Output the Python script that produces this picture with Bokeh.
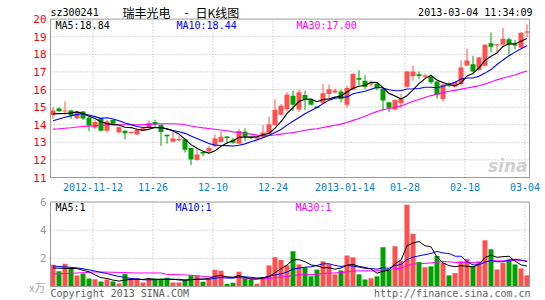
import numpy as np
import pandas as pd
from bokeh.plotting import figure
from bokeh.models import Range1d
from bokeh.core.properties import value
from bokeh.embed import file_html
from bokeh.resources import INLINE

# ---------------- data ----------------
open_ = [14.53, 14.92, 14.76, 14.81, 14.36, 14.75, 14.39, 13.82, 14.36, 13.66,
         14.27, 13.57, 13.66, 13.55, 13.44, 13.66, 13.81, 14.15, 14.00, 13.43,
         13.03, 13.11, 13.18, 12.68, 12.00, 12.45, 12.49, 12.78, 13.02, 13.33,
         13.15, 12.92, 13.60, 13.32, 13.22, 13.28, 13.47, 13.98, 14.57, 14.88,
         15.65, 14.86, 15.69, 15.41, 15.03, 15.22, 15.75, 15.83, 15.89, 15.14,
         15.98, 16.65, 16.50, 16.28, 16.33, 16.03, 15.27, 14.87, 15.22, 16.16,
         16.75, 16.87, 16.72, 16.74, 16.45, 15.46, 16.31, 16.17, 16.31, 17.37,
         17.43, 17.11, 17.35, 18.63, 18.50, 18.55, 18.86, 18.57, 18.39, 19.27]
high = [15.00, 15.00, 15.32, 14.85, 14.81, 14.78, 14.46, 14.25, 14.38, 14.28,
        14.30, 13.87, 13.68, 13.62, 13.79, 13.85, 14.25, 14.28, 14.00, 13.43,
        13.58, 13.37, 13.21, 12.70, 12.70, 12.47, 12.77, 13.44, 13.64, 13.34,
        13.26, 13.75, 13.80, 13.33, 13.42, 13.98, 14.46, 15.43, 15.17, 15.84,
        15.94, 16.00, 15.93, 15.47, 15.04, 16.31, 16.29, 16.05, 16.01, 16.23,
        16.92, 17.10, 16.81, 16.51, 16.40, 16.08, 15.30, 15.45, 15.75, 17.06,
        17.33, 17.02, 16.90, 16.82, 16.48, 16.40, 16.40, 16.45, 17.65, 18.32,
        17.92, 17.86, 18.57, 19.24, 18.58, 19.50, 18.95, 18.82, 19.27, 19.70]
low = [14.34, 14.72, 14.53, 14.33, 14.30, 14.28, 13.63, 13.75, 13.62, 13.55,
       14.00, 13.50, 13.17, 13.49, 13.40, 13.62, 13.74, 13.87, 12.79, 12.92,
       13.00, 13.06, 12.42, 11.70, 11.96, 12.21, 12.44, 12.74, 13.00, 12.92,
       12.92, 12.89, 13.07, 13.18, 13.18, 13.24, 13.42, 13.95, 14.53, 14.75,
       14.78, 14.72, 14.82, 15.14, 14.93, 15.18, 15.50, 15.77, 15.27, 14.98,
       15.96, 16.22, 16.02, 16.15, 15.95, 14.80, 14.71, 14.82, 14.95, 16.12,
       16.50, 16.60, 16.62, 16.32, 15.48, 15.32, 16.13, 16.12, 16.22, 17.33,
       16.98, 17.06, 17.31, 18.10, 18.10, 18.52, 17.91, 18.28, 18.36, 18.95]
close = [14.81, 14.76, 14.80, 14.54, 14.74, 14.35, 13.95, 14.16, 13.66, 14.18,
         14.06, 13.85, 13.51, 13.58, 13.70, 13.80, 14.09, 14.01, 13.58, 13.34,
         13.22, 13.19, 12.57, 12.02, 12.30, 12.36, 12.67, 13.22, 13.32, 13.25,
         12.97, 13.64, 13.35, 13.25, 13.34, 13.55, 14.02, 14.85, 15.08, 15.72,
         15.14, 15.84, 15.44, 15.14, 14.95, 15.79, 16.01, 15.95, 15.46, 16.08,
         16.88, 16.56, 16.15, 16.36, 16.05, 15.37, 14.97, 15.41, 15.48, 17.02,
         17.02, 16.77, 16.80, 16.41, 15.70, 16.28, 16.22, 16.42, 17.25, 17.65,
         17.02, 17.82, 18.54, 18.43, 18.57, 18.88, 18.57, 18.50, 19.22, 19.30]
volume = [1.55, 1.08, 1.62, 1.34, 0.78, 0.92, 0.56, 0.52, 0.35, 0.50,
          0.35, 0.21, 0.90, 0.56, 0.56, 0.28, 0.54, 0.56, 0.56, 0.63,
          0.28, 0.28, 0.45, 0.78, 0.78, 0.34, 0.52, 1.19, 1.12, 0.20,
          0.27, 1.04, 0.62, 0.50, 0.20, 0.65, 1.50, 2.08, 1.88, 1.50,
          2.50, 1.57, 1.36, 0.72, 1.20, 1.79, 1.58, 0.86, 1.14, 2.20,
          2.07, 0.86, 0.50, 0.58, 0.72, 2.78, 1.19, 2.86, 1.83, 5.81,
          3.74, 1.74, 1.36, 1.43, 2.17, 1.69, 0.79, 0.95, 1.79, 1.95,
          1.45, 1.79, 3.29, 2.64, 1.21, 1.67, 1.93, 1.57, 1.29, 0.79]

# moving-average values at the start of the window (read from the picture,
# they depend on sessions before the first one shown)
ma5_head = [14.62, 14.63, 14.64, 14.66]
ma10_head = [14.22, 14.32, 14.42, 14.50, 14.58, 14.62, 14.55, 14.46, 14.36]
ma30_head = [13.75, 13.77, 13.80, 13.83, 13.87, 13.90, 13.92, 13.94, 13.96, 13.98,
             14.00, 14.00, 14.00, 14.00, 14.00, 14.01, 14.02, 14.04, 14.05, 14.05,
             14.05, 14.04, 14.00, 13.93, 13.87, 13.82, 13.78, 13.74, 13.70]
vma5_head = [1.32, 1.30, 1.29, 1.28]
vma10_head = [1.46, 1.42, 1.39, 1.36, 1.32, 1.26, 1.18, 1.10, 1.00]
vma30_head = [0.89, 0.90, 0.92, 0.94, 0.96, 0.98, 1.01, 1.03, 1.03, 1.02,
              1.01, 1.00, 0.99, 0.97, 0.96, 0.96, 0.96, 0.96, 0.96, 0.86,
              0.85, 0.84, 0.82, 0.80, 0.76, 0.72, 0.68, 0.67, 0.67]

ma_legend_values = [18.84, 18.44, 17.00]
vol_legend_values = [1, 1, 1]

holidays = ["2013-01-01", "2013-01-02", "2013-01-03", "2013-02-11", "2013-02-12",
            "2013-02-13", "2013-02-14", "2013-02-15"]
tick_dates = ["2012-11-12", "2012-11-26", "2012-12-10", "2012-12-24",
              "2013-01-14", "2013-01-28", "2013-02-18", "2013-03-04"]
tick_labels = ["2012-11-12", "11-26", "12-10", "12-24",
               "2013-01-14", "01-28", "02-18", "03-04"]
price_ticks = [11, 12, 13, 14, 15, 16, 17, 18, 19, 20]
vol_ticks = [2, 4, 6]

# ---------------- derived ----------------
dates = [d.strftime("%Y-%m-%d") for d in pd.bdate_range("2012-11-01", "2013-03-04")
         if d.strftime("%Y-%m-%d") not in holidays]
n = len(close)
xs = list(range(n))
tick_idx = [dates.index(d) for d in tick_dates]


def moving(vals, w, head):
    out = list(head)
    for i in range(w - 1, len(vals)):
        out.append(float(np.mean(vals[i - w + 1:i + 1])))
    return out


ma5 = moving(close, 5, ma5_head)
ma10 = moving(close, 10, ma10_head)
ma30 = moving(close, 30, ma30_head)
vma5 = moving(volume, 5, vma5_head)
vma10 = moving(volume, 10, vma10_head)
vma30 = moving(volume, 30, vma30_head)

# ---------------- layout (pixels) ----------------
W, H = 545, 300
X0, DX = 52.5, 6.0          # pixel of first session, pixels per session
PY11, PSC = 177.0, 17.6      # pixel of price 11, pixels per price unit
VY0, VSC = 286.0, 14.08      # pixel of volume 0, pixels per volume unit
LEFT_PX, RIGHT_PX = 50.0, 529.0


def xi(px):
    return (px - X0) / DX


def yp(py):
    return 11 + (PY11 - py) / PSC


UP, DOWN = "#ff5050", "#00a000"
GRID = "#b4b4b4"
FRAME = "#9a9a9a"
MONO = value("DejaVu Sans Mono")
CJK = value("Noto Sans CJK SC")

p = figure(width=W, height=H, output_backend="svg", toolbar_location=None,
           x_range=Range1d(xi(0), xi(W)), y_range=Range1d(yp(H), yp(0)),
           min_border=0, x_axis_location=None, y_axis_location=None,
           outline_line_color=None, background_fill_color="white")
p.extra_y_ranges = {"vol": Range1d((VY0 - H) / VSC, VY0 / VSC)}
p.grid.visible = False

L, R = xi(LEFT_PX), xi(RIGHT_PX)
pmin, pmax = price_ticks[0], price_ticks[-1]
vmax = vol_ticks[-1]

# grid lines
gx = [t - 2.0 / DX for t in tick_idx]
p.segment(x0=[L] * 8, y0=price_ticks[1:-1], x1=[R] * 8, y1=price_ticks[1:-1],
          line_color=GRID, line_dash="1 2", line_width=1)
p.segment(x0=gx, y0=[pmin] * len(gx), x1=gx, y1=[pmax] * len(gx),
          line_color=GRID, line_dash="1 2", line_width=1)
p.segment(x0=[L] * 2, y0=vol_ticks[:-1], x1=[R] * 2, y1=vol_ticks[:-1],
          line_color=GRID, line_dash="1 2", line_width=1, y_range_name="vol")
p.segment(x0=gx, y0=[0] * len(gx), x1=gx, y1=[vmax] * len(gx),
          line_color=GRID, line_dash="1 2", line_width=1, y_range_name="vol")

# candles
colors = [UP if c >= o else DOWN for o, c in zip(open_, close)]
mind = 1.0 / PSC
tops = [max(o, c) for o, c in zip(open_, close)]
bots = [min(o, c) if abs(o - c) >= mind else max(o, c) - mind for o, c in zip(open_, close)]
p.segment(x0=xs, y0=high, x1=xs, y1=low, line_color=colors, line_width=1)
p.vbar(x=xs, width=5.0 / DX, top=tops, bottom=bots, fill_color=colors, line_color=None)

# price MAs
p.line(xs, ma30, line_color="#ff00ff", line_width=1.1)
p.line(xs, ma10, line_color="#0000ff", line_width=1.1)
p.line(xs, ma5, line_color="black", line_width=1.1)

# volume
p.vbar(x=xs, width=5.0 / DX, top=volume, bottom=0, fill_color=colors, line_color=None,
       y_range_name="vol")
p.line(xs, vma30, line_color="#ff00ff", line_width=1, y_range_name="vol")
p.line(xs, vma10, line_color="#0000ff", line_width=1, y_range_name="vol")
p.line(xs, vma5, line_color="black", line_width=1, y_range_name="vol")

# frames
p.quad(left=[L], right=[R], top=[pmax], bottom=[pmin], fill_alpha=0,
       line_color=FRAME, line_width=1)
p.quad(left=[L], right=[R], top=[vmax], bottom=[0], fill_alpha=0,
       line_color=FRAME, line_width=1, y_range_name="vol")

# price tick labels
p.text(x=[xi(46)] * len(price_ticks), y=price_ticks, text=[str(t) for t in price_ticks],
       text_font=MONO, text_font_size="11px", text_color="#ff0000",
       text_align="right", text_baseline="middle")
# volume tick labels
p.text(x=[xi(46)] * len(vol_ticks), y=vol_ticks, text=[str(t) for t in vol_ticks],
       text_font=MONO, text_font_size="11px", text_color="#a0a0a0",
       text_align="right", text_baseline="middle", y_range_name="vol")
p.text(x=[xi(45)], y=[yp(286.5)], text=["x万"], text_font=CJK, text_font_size="11px",
       text_color="#a8a8a8", text_align="right", text_baseline="middle")
# date labels
p.text(x=gx, y=[yp(186)] * len(gx), text=tick_labels, text_font=MONO,
       text_font_size="10px", text_color="#0a80cc", text_align="center",
       text_baseline="middle")

# header
p.text(x=[xi(50)], y=[yp(12)], text=["sz300241"], text_font=MONO, text_font_size="10px",
       text_color="black", text_baseline="middle")
p.text(x=[xi(122), xi(186), xi(195)], y=[yp(12)] * 3, text=["瑞丰光电", "-", "日K线图"],
       text_font=CJK, text_font_size="12px", text_color="black",
       text_align=["left", "center", "left"], text_baseline="middle")
p.text(x=[xi(532)], y=[yp(12)], text=["2013-03-04 11:34:09"], text_font=MONO,
       text_font_size="10px", text_color="black", text_align="right",
       text_baseline="middle")

# MA legends
p.text(x=[xi(55), xi(176), xi(296)], y=[yp(25)] * 3,
       text=["MA5:%.2f" % ma_legend_values[0], "MA10:%.2f" % ma_legend_values[1],
             "MA30:%.2f" % ma_legend_values[2]],
       text_font=MONO, text_font_size="10px", text_color=["black", "#0000ff", "#ff00ff"],
       text_baseline="middle")
p.text(x=[xi(55), xi(175), xi(295)], y=[yp(207)] * 3,
       text=["MA5:%d" % vol_legend_values[0], "MA10:%d" % vol_legend_values[1],
             "MA30:%d" % vol_legend_values[2]],
       text_font=MONO, text_font_size="10px", text_color=["black", "#0000ff", "#ff00ff"],
       text_baseline="middle")

# watermark
p.text(x=[xi(527)], y=[yp(165)], text=["sina"], text_font=value("DejaVu Sans"),
       text_font_size="17px", text_font_style="bold italic", text_color="#cfcfcf",
       text_align="right", text_baseline="middle")

# footer
p.text(x=[xi(50)], y=[yp(293)], text=["Copyright 2013 SINA.COM"], text_font=MONO,
       text_font_size="10px", text_color="#606060", text_baseline="middle")
p.text(x=[xi(530)], y=[yp(293)], text=["http://finance.sina.com.cn"], text_font=MONO,
       text_font_size="10px", text_color="#606060", text_align="right",
       text_baseline="middle")

open("out.html", "w").write(file_html(p, INLINE))
